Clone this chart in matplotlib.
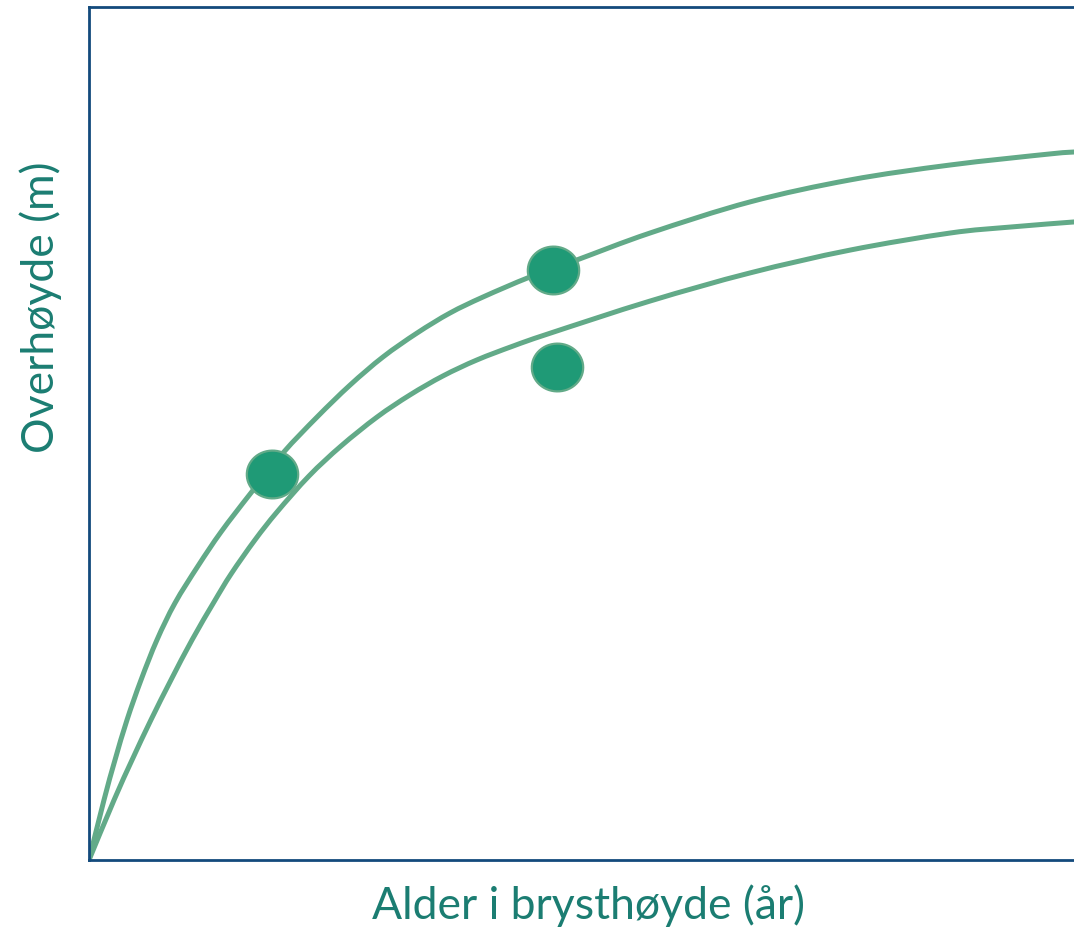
import numpy as np
import matplotlib.pyplot as plt
from matplotlib.path import Path
from matplotlib.patches import PathPatch
from matplotlib.markers import MarkerStyle

# alder i brysthøyde (år) og overhøyde (m), lest av figuren
alder_ovre = [0, 1.52, 2.64, 3.86, 5.28, 6.90, 8.73, 11.07, 13.4, 16.35, 19.7, 23.15, 26.5,
              29.85, 33.3, 36.65, 40.0, 44.77, 49.54, 56.95, 67.11, 77.26, 87.41, 97.56, 100]
hoyde_ovre = [0, 2.81, 4.69, 6.57, 8.44, 10.32, 12.05, 13.79, 15.38, 17.16, 19.09, 20.77, 22.27,
              23.59, 24.71, 25.65, 26.40, 27.34, 28.14, 29.40, 30.86, 31.89, 32.59, 33.11, 33.20]

alder_nedre = [0, 2.54, 4.37, 6.29, 8.32, 10.46, 12.69, 14.42, 16.85, 19.09, 22.34, 25.58,
               29.24, 32.59, 35.94, 39.39, 43.05, 46.6, 56.95, 67.11, 77.26, 87.41, 93.5, 100]
hoyde_nedre = [0, 2.81, 4.69, 6.57, 8.44, 10.32, 12.10, 13.41, 15.01, 16.32, 18.01, 19.41,
               20.77, 21.81, 22.70, 23.45, 24.10, 24.67, 26.21, 27.53, 28.60, 29.40, 29.68, 29.92]

punkt_alder = [18.6, 47.1, 47.5]
punkt_hoyde = [18.1, 27.67, 23.12]

linje_farge = '#62aa88'
punkt_farge = '#1f9a76'
tekst_farge = '#1b7d72'
akse_farge = '#134a7c'


def glatt_kurve(x, y):
    # Catmull-Rom gjennom punktene, tegnet som kubiske Bezier-segmenter
    p = np.column_stack([x, y]).astype(float)
    p = np.vstack([p[0], p, p[-1]])
    verts = [p[1]]
    codes = [Path.MOVETO]
    for i in range(1, len(p) - 2):
        c1 = p[i] + (p[i + 1] - p[i - 1]) / 6
        c2 = p[i + 1] - (p[i + 2] - p[i]) / 6
        verts += [c1, c2, p[i + 1]]
        codes += [Path.CURVE4] * 3
    return Path(verts, codes)


plt.rcParams['font.family'] = ['Lato', 'DejaVu Sans']

fig = plt.figure(figsize=(10.74, 9.34), dpi=100)
ax = fig.add_axes([89 / 1074, 74 / 934, 985 / 1074, 853 / 934])

for x, y in [(alder_ovre, hoyde_ovre), (alder_nedre, hoyde_nedre)]:
    ax.add_patch(PathPatch(glatt_kurve(x, y), facecolor='none', edgecolor=linje_farge,
                           lw=3.6, capstyle='round', joinstyle='round', zorder=2))

# litt flattrykt sirkel som markør
t = np.linspace(0, 2 * np.pi, 60)
ellipse = Path(np.column_stack([np.cos(t), 0.93 * np.sin(t)]), closed=True)
ax.plot(punkt_alder, punkt_hoyde, ls='none', marker=MarkerStyle(ellipse), markersize=37,
        markerfacecolor=punkt_farge, markeredgecolor=linje_farge, markeredgewidth=1.6, zorder=3)

ax.set_xlim(0, 100)
ax.set_ylim(0, 40)
ax.set_xticks([])
ax.set_yticks([])
ax.spines['right'].set_visible(False)
for s in ['left', 'top', 'bottom']:
    ax.spines[s].set_color(akse_farge)
    ax.spines[s].set_linewidth(2.0)

fig.text(588 / 1074, 1 - 906 / 934, 'Alder i brysthøyde (år)', color=tekst_farge,
         fontsize=32, ha='center', va='center')
fig.text(41 / 1074, 1 - 307 / 934, 'Overhøyde (m)', color=tekst_farge,
         fontsize=32, ha='center', va='center', rotation=90)

fig.savefig('out.png', dpi=100)
